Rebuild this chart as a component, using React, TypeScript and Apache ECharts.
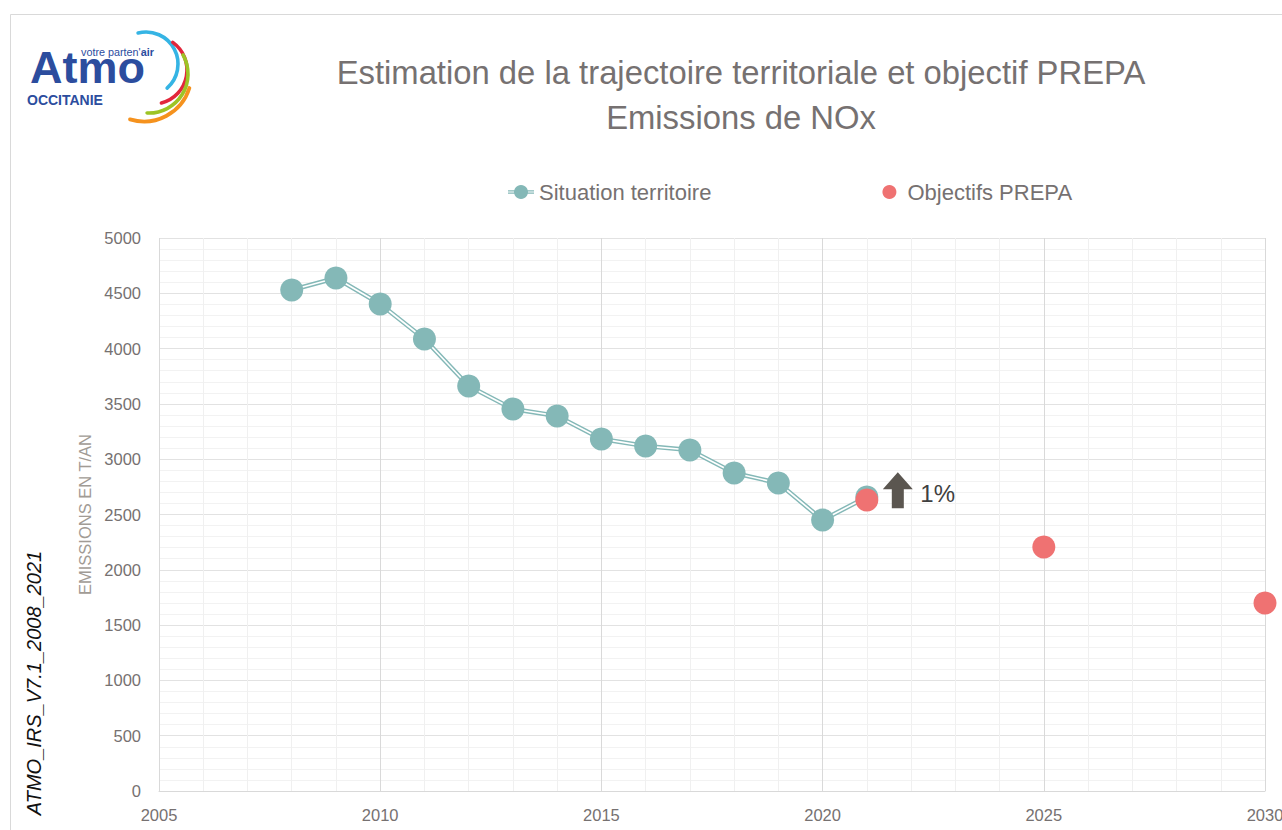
import React, { useEffect, useRef } from "react";
import * as echarts from "echarts";

const years = [2008, 2009, 2010, 2011, 2012, 2013, 2014, 2015, 2016, 2017, 2018, 2019, 2020, 2021];
const situation = [4530, 4638, 4403, 4087, 3662, 3454, 3391, 3183, 3119, 3083, 2875, 2785, 2450, 2658];
const objectifYears = [2021, 2025, 2030];
const objectifs = [2631, 2206, 1700];
const annotationLabel = "1%";

const TEAL = "#84b8b7";
const RED = "#ef7272";
const GRAY = "#767171";
const SANS = '"Liberation Sans", Arial, sans-serif';

export default function App() {
  const ref = useRef<HTMLDivElement>(null);
  useEffect(() => {
    if (!ref.current) return;
    const chart = echarts.init(ref.current, null, { renderer: "svg" });
    const sitPairs = years.map((y, i) => [y, situation[i]]);
    const objPairs = objectifYears.map((y, i) => [y, objectifs[i]]);
    const legendIcon =
      "path://M0,5.2h26v1.3h-26z M0,7.5h26v1.3h-26z M13,0a7,7 0 1,1 -0.01,0z";
    const plain = (v: number) => String(v);
    const arcStyle = (c: string, w: number) => ({ stroke: c, lineWidth: w, fill: null, lineCap: "round" });
    chart.setOption({
      animation: false,
      backgroundColor: "#ffffff",
      title: {
        text: "Estimation de la trajectoire territoriale et objectif PREPA\nEmissions de NOx",
        left: 736,
        textAlign: "center",
        top: 45,
        textStyle: { fontSize: 32.8, fontWeight: "normal", color: GRAY, fontFamily: SANS, lineHeight: 45 },
      },
      legend: {
        left: 503,
        top: 176,
        itemGap: 171,
        itemWidth: 26,
        itemHeight: 14,
        textStyle: { fontSize: 22, color: GRAY, fontFamily: SANS },
        data: [
          { name: "Situation territoire", icon: legendIcon },
          { name: "Objectifs PREPA", icon: "circle" },
        ],
      },
      grid: { left: 159, right: 17, top: 238, bottom: 39, containLabel: false, outerBoundsMode: "none" },
      xAxis: {
        type: "value",
        min: 2005,
        max: 2030,
        interval: 5,
        axisLine: { show: true, lineStyle: { color: "#d9d9d9", width: 1 } },
        axisTick: { show: false },
        axisLabel: { color: GRAY, fontSize: 16.5, fontFamily: SANS, margin: 15, formatter: plain },
        splitLine: { show: true, lineStyle: { color: "#d9d9d9", width: 1 } },
        minorTick: { show: false, splitNumber: 5 },
        minorSplitLine: { show: true, lineStyle: { color: "#f0f0f0", width: 1 } },
      },
      yAxis: {
        type: "value",
        min: 0,
        max: 5000,
        interval: 500,
        name: "EMISSIONS EN T/AN",
        nameLocation: "middle",
        nameRotate: 90,
        nameGap: 57,
        nameTextStyle: { color: "#a19b95", fontSize: 16.5, fontFamily: SANS },
        axisLine: { show: false },
        axisTick: { show: false },
        axisLabel: { color: GRAY, fontSize: 16.5, fontFamily: SANS, margin: 18, formatter: plain },
        splitLine: { show: true, lineStyle: { color: "#e2e2e2", width: 1 } },
        minorTick: { show: false, splitNumber: 5 },
        minorSplitLine: { show: true, lineStyle: { color: "#f2f2f2", width: 1 } },
      },
      series: [
        {
          type: "line",
          name: "_outer",
          data: sitPairs,
          symbol: "none",
          lineStyle: { width: 4.6, color: TEAL },
          z: 2,
          silent: true,
        },
        {
          type: "line",
          name: "_inner",
          data: sitPairs,
          symbol: "none",
          lineStyle: { width: 1.7, color: "#ffffff" },
          z: 3,
          silent: true,
        },
        {
          type: "scatter",
          name: "Situation territoire",
          data: sitPairs,
          symbolSize: 23,
          itemStyle: { color: TEAL, opacity: 1 },
          z: 4,
        },
        {
          type: "scatter",
          name: "Objectifs PREPA",
          data: objPairs,
          symbolSize: 23,
          itemStyle: { color: RED, opacity: 1 },
          z: 5,
          markPoint: {
            silent: true,
            data: [
              {
                coord: [2021.7, 2720],
                symbol: "path://M15,0L30,17L21,17L21,36L9,36L9,17L0,17Z",
                symbolSize: [30, 36],
                itemStyle: { color: "#5b5650" },
                label: { show: false },
              },
              {
                coord: [2022.6, 2690],
                symbol: "circle",
                symbolSize: 1,
                itemStyle: { color: "rgba(0,0,0,0)" },
                label: {
                  show: true,
                  position: "inside",
                  formatter: annotationLabel,
                  fontSize: 24,
                  color: "#3f3f3f",
                  fontFamily: SANS,
                },
              },
            ],
          },
        },
      ],
      graphic: [
        { type: "line", shape: { x1: 10.5, y1: 14.5, x2: 1282, y2: 14.5 }, style: { stroke: "#d9d9d9", lineWidth: 1 } },
        { type: "line", shape: { x1: 10.5, y1: 14.5, x2: 10.5, y2: 830 }, style: { stroke: "#d9d9d9", lineWidth: 1 } },
        {
          type: "text",
          x: 34,
          y: 683,
          rotation: Math.PI / 2,
          style: {
            text: "ATMO_IRS_V7.1_2008_2021",
            fontSize: 20,
            fontStyle: "italic",
            fontFamily: SANS,
            fill: "#111111",
            align: "center",
            verticalAlign: "middle",
          },
        },
        // logo
        { type: "arc", shape: { cx: 146, cy: 64, r: 32, startAngle: -1.82, endAngle: 0.85 }, style: arcStyle("#35b4e4", 3.6) },
        { type: "arc", shape: { cx: 153, cy: 70, r: 34, startAngle: -0.95, endAngle: 1.32 }, style: arcStyle("#e2263b", 3.6) },
        { type: "arc", shape: { cx: 149, cy: 74, r: 39, startAngle: -0.51, endAngle: 1.62 }, style: arcStyle("#9dc425", 3.6) },
        { type: "arc", shape: { cx: 144, cy: 74, r: 47.5, startAngle: 0.3, endAngle: 1.87 }, style: arcStyle("#f5921e", 3.8) },
        {
          type: "text",
          x: 30,
          y: 67,
          style: {
            text: "Atmo",
            fontSize: 45,
            fontWeight: "bold",
            fontFamily: SANS,
            fill: "#2c4d9e",
            verticalAlign: "middle",
          },
        },
        {
          type: "text",
          x: 81,
          y: 52,
          style: {
            text: "{a|votre parten'}{b|air}",
            rich: {
              a: { fontSize: 10.8, fontFamily: SANS, fill: "#2c4d9e", color: "#2c4d9e" },
              b: { fontSize: 10.8, fontFamily: SANS, fontWeight: "bold", fill: "#2c4d9e", color: "#2c4d9e" },
            },
            verticalAlign: "middle",
          },
        },
        {
          type: "text",
          x: 27,
          y: 100,
          style: {
            text: "OCCITANIE",
            fontSize: 14,
            fontWeight: "bold",
            fontFamily: SANS,
            fill: "#2c4d9e",
            verticalAlign: "middle",
          },
        },
      ],
    });
    return () => chart.dispose();
  }, []);
  return (
    <div
      ref={ref}
      style={{ position: "absolute", left: 0, top: 0, width: 1282, height: 830 }}
    />
  );
}
